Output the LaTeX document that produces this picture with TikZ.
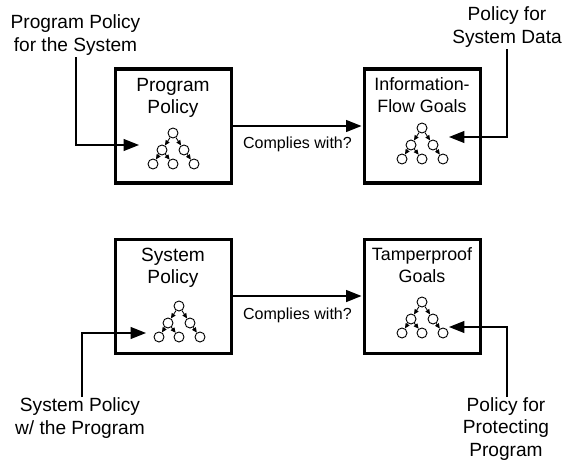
\documentclass[tikz,border=0pt]{standalone}
\usepackage{fontspec}
\setmainfont{Liberation Sans}
\usetikzlibrary{arrows.meta}
\begin{document}
\begin{tikzpicture}[%
        x=0.025cm, y=-0.025cm,
        goalbox/.style={shape=rectangle, draw, line width=2.2pt, minimum width=2.9cm, minimum height=2.85cm},
        treenode/.style={shape=circle, draw, fill=white, line width=0.65pt, inner sep=0pt, minimum size=0.25cm},
        treeedge/.style={-{Triangle[length=3.6pt,width=3.2pt]}, line width=0.6pt},
        flow/.style={-{Triangle[length=11pt,width=8.5pt]}, line width=1pt},
        biglabel/.style={align=center, font=\fontsize{13.6}{16}\selectfont},
        boxlabel/.style={align=center, font=\fontsize{12.7}{15.2}\selectfont},
        asklabel/.style={font=\fontsize{11.4}{13}\selectfont}
    ]
    \useasboundingbox (0,0) rectangle (564,460);

    % boxes
    \node [goalbox] (progbox) at (173.5,126) {};
    \node [goalbox] (infobox) at (422.5,126) {};
    \node [goalbox] (sysbox) at (173.5,296.5) {};
    \node [goalbox] (tampbox) at (422.5,296.5) {};

    \node [biglabel] (progtext) at (173,98) {Program\\Policy};
    \node [boxlabel] (infotext) at (422,95) {Information-\\Flow Goals};
    \node [biglabel] (systext) at (173,268) {System\\Policy};
    \node [boxlabel] (tamptext) at (422,265) {Tamperproof\\Goals};

    % policy trees
    \foreach \t/\tx/\ty in {a/173/133, b/422/128, c/179/306, d/422/302} {
        \begin{scope}[shift={(\tx,\ty)}]
            \node [treenode] (\t-root) at (0,0) {};
            \node [treenode] (\t-l) at (-11,17) {};
            \node [treenode] (\t-r) at (11,17) {};
            \node [treenode] (\t-ll) at (-20,31) {};
            \node [treenode] (\t-lm) at (0,31) {};
            \node [treenode] (\t-rr) at (21,31) {};
            \draw [treeedge] (\t-root) -- (\t-l);
            \draw [treeedge] (\t-root) -- (\t-r);
            \draw [treeedge] (\t-l) -- (\t-ll);
            \draw [treeedge] (\t-l) -- (\t-lm);
            \draw [treeedge] (\t-r) -- (\t-rr);
        \end{scope}
    }

    % outside labels
    \node [biglabel] (proglabel) at (75.5,35) {Program Policy\\for the System};
    \node [biglabel] (datalabel) at (507,27) {Policy for\\System Data};
    \node [biglabel] (syslabel) at (80,418) {System Policy\\w/ the Program};
    \node [biglabel] (protlabel) at (506,429) {Policy for\\Protecting\\Program};

    \coordinate (progfrom) at (76,57);
    \coordinate (progtip) at (139,145);
    \coordinate (datafrom) at (507,49);
    \coordinate (datatip) at (449,137);
    \coordinate (sysfrom) at (82,397);
    \coordinate (systip) at (146,333);
    \coordinate (protfrom) at (507,397);
    \coordinate (prottip) at (449,327);

    \draw [flow] (progfrom) |- (progtip);
    \draw [flow] (datafrom) |- (datatip);
    \draw [flow] (sysfrom) |- (systip);
    \draw [flow] (protfrom) |- (prottip);

    % complies arrows
    \draw [flow, shorten >=1pt] (progbox.east |- 0,126) -- (infobox.west |- 0,126);
    \draw [flow, shorten >=1pt] (sysbox.east |- 0,296) -- (tampbox.west |- 0,296);
    \node [asklabel] (askone) at (297.5,144) {Complies with?};
    \node [asklabel] (asktwo) at (297.5,315) {Complies with?};
\end{tikzpicture}
\end{document}
